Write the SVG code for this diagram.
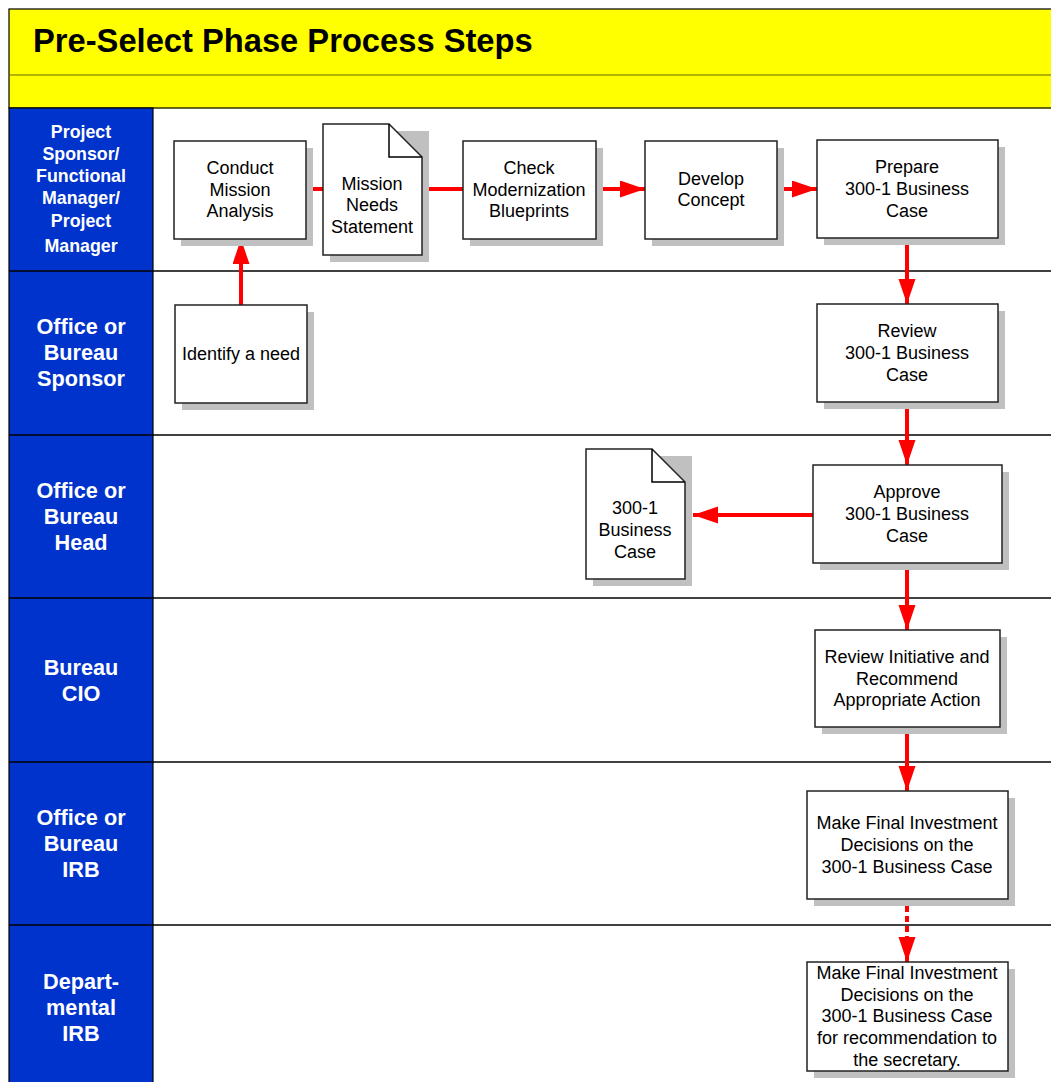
<svg xmlns="http://www.w3.org/2000/svg" width="1051" height="1082" viewBox="0 0 1051 1082">
<style>
.box{fill:#fff;stroke:#222;stroke-width:1.5}
.sh{fill:#c0c0c0}
.t{font-family:"Liberation Sans",Arial,sans-serif;font-size:18px;fill:#000;text-anchor:middle}
.lane{font-family:"Liberation Sans",Arial,sans-serif;font-weight:bold;font-size:21.7px;fill:#fff;text-anchor:middle}
.lane1{font-family:"Liberation Sans",Arial,sans-serif;font-weight:bold;font-size:17.8px;fill:#fff;text-anchor:middle}
.c{stroke:#ff0000;stroke-width:4;fill:none}
.sep{stroke:#000;stroke-width:1.5}
</style>
<defs>
<marker id="ah" markerUnits="userSpaceOnUse" markerWidth="26" markerHeight="18" refX="25" refY="8.5" orient="auto">
<path d="M0,0 L25,8.5 L0,17 Z" fill="#ff0000"/>
</marker>
</defs>
<rect x="0" y="0" width="1051" height="1082" fill="#fff"/>
<g id="header">
<rect x="9" y="9" width="1050" height="99" fill="#ffff00" stroke="#000" stroke-width="1.2"/>
<line x1="9" y1="75" x2="1051" y2="75" stroke="#666600" stroke-width="1.2"/>
<line x1="9" y1="108" x2="1051" y2="108" stroke="#666600" stroke-width="1.2"/>
<text x="33" y="52" font-family="'Liberation Sans',Arial,sans-serif" font-weight="bold" font-size="32.7" fill="#000">Pre-Select Phase Process Steps</text>
</g>
<g id="lanes">
<rect x="9" y="108" width="144" height="980" fill="#0033cc" stroke="#000" stroke-width="1.2"/>
<line class="sep" x1="9" y1="271" x2="1051" y2="271"/>
<line class="sep" x1="9" y1="435" x2="1051" y2="435"/>
<line class="sep" x1="9" y1="598" x2="1051" y2="598"/>
<line class="sep" x1="9" y1="762" x2="1051" y2="762"/>
<line class="sep" x1="9" y1="925" x2="1051" y2="925"/>
<text class="lane1"><tspan x="81" y="138">Project</tspan><tspan x="81" y="160">Sponsor/</tspan><tspan x="81" y="182">Functional</tspan><tspan x="81" y="204">Manager/</tspan><tspan x="81" y="227">Project</tspan><tspan x="81" y="252">Manager</tspan></text>
<text class="lane"><tspan x="81" y="334">Office or</tspan><tspan x="81" y="360">Bureau</tspan><tspan x="81" y="386">Sponsor</tspan></text>
<text class="lane"><tspan x="81" y="498">Office or</tspan><tspan x="81" y="524">Bureau</tspan><tspan x="81" y="550">Head</tspan></text>
<text class="lane"><tspan x="81" y="675">Bureau</tspan><tspan x="81" y="701">CIO</tspan></text>
<text class="lane"><tspan x="81" y="825">Office or</tspan><tspan x="81" y="851">Bureau</tspan><tspan x="81" y="877">IRB</tspan></text>
<text class="lane"><tspan x="81" y="989">Depart-</tspan><tspan x="81" y="1015">mental</tspan><tspan x="81" y="1041">IRB</tspan></text>
</g>
<g id="connectors">
<line class="c" x1="241" y1="306" x2="241" y2="239" marker-end="url(#ah)"/>
<line class="c" x1="312" y1="189" x2="323" y2="189"/>
<line class="c" x1="422" y1="189" x2="463" y2="189"/>
<line class="c" x1="603" y1="189" x2="645" y2="189" marker-end="url(#ah)"/>
<line class="c" x1="784" y1="189" x2="817" y2="189" marker-end="url(#ah)"/>
<line class="c" x1="907" y1="245" x2="907" y2="304" marker-end="url(#ah)"/>
<line class="c" x1="907" y1="409" x2="907" y2="465" marker-end="url(#ah)"/>
<line class="c" x1="813" y1="515" x2="693" y2="515" marker-end="url(#ah)"/>
<line class="c" x1="907" y1="563" x2="907" y2="630" marker-end="url(#ah)"/>
<line class="c" x1="907" y1="727" x2="907" y2="791" marker-end="url(#ah)"/>
<line class="c" x1="907" y1="906" x2="907" y2="962" stroke-dasharray="6,4" marker-end="url(#ah)"/>
</g>
<g id="conduct">
<rect class="sh" x="181" y="148" width="132" height="98"/>
<rect class="box" x="174" y="141" width="132" height="98"/>
<text class="t"><tspan x="240" y="174">Conduct</tspan><tspan x="240" y="196">Mission</tspan><tspan x="240" y="217">Analysis</tspan></text>
</g>
<g id="mns">
<rect class="sh" x="330" y="131" width="99" height="131"/>
<path class="box" d="M323,124 L389,124 L422,157 L422,255 L323,255 Z"/>
<path d="M389,124 L389,157 L422,157" fill="none" stroke="#000" stroke-width="1.5"/>
<text class="t"><tspan x="372" y="190">Mission</tspan><tspan x="372" y="211">Needs</tspan><tspan x="372" y="233">Statement</tspan></text>
</g>
<g id="check">
<rect class="sh" x="470" y="148" width="133" height="98"/>
<rect class="box" x="463" y="141" width="133" height="98"/>
<text class="t"><tspan x="529" y="174">Check</tspan><tspan x="529" y="196">Modernization</tspan><tspan x="529" y="217">Blueprints</tspan></text>
</g>
<g id="develop">
<rect class="sh" x="652" y="148" width="132" height="98"/>
<rect class="box" x="645" y="141" width="132" height="98"/>
<text class="t"><tspan x="711" y="185">Develop</tspan><tspan x="711" y="206">Concept</tspan></text>
</g>
<g id="prepare">
<rect class="sh" x="824" y="147" width="181" height="98"/>
<rect class="box" x="817" y="140" width="181" height="98"/>
<text class="t"><tspan x="907" y="173">Prepare</tspan><tspan x="907" y="195">300-1 Business</tspan><tspan x="907" y="217">Case</tspan></text>
</g>
<g id="identify">
<rect class="sh" x="182" y="312" width="132" height="98"/>
<rect class="box" x="175" y="305" width="132" height="98"/>
<text class="t" x="241" y="360">Identify a need</text>
</g>
<g id="review">
<rect class="sh" x="824" y="311" width="181" height="98"/>
<rect class="box" x="817" y="304" width="181" height="98"/>
<text class="t"><tspan x="907" y="337">Review</tspan><tspan x="907" y="359">300-1 Business</tspan><tspan x="907" y="381">Case</tspan></text>
</g>
<g id="approve">
<rect class="sh" x="820" y="472" width="189" height="98"/>
<rect class="box" x="813" y="465" width="189" height="98"/>
<text class="t"><tspan x="907" y="498">Approve</tspan><tspan x="907" y="520">300-1 Business</tspan><tspan x="907" y="542">Case</tspan></text>
</g>
<g id="bcdoc">
<rect class="sh" x="593" y="456" width="99" height="130"/>
<path class="box" d="M586,449 L652,449 L685,482 L685,579 L586,579 Z"/>
<path d="M652,449 L652,482 L685,482" fill="none" stroke="#000" stroke-width="1.5"/>
<text class="t"><tspan x="635" y="514">300-1</tspan><tspan x="635" y="536">Business</tspan><tspan x="635" y="558">Case</tspan></text>
</g>
<g id="reviewinit">
<rect class="sh" x="822" y="637" width="185" height="97"/>
<rect class="box" x="815" y="630" width="185" height="97"/>
<text class="t"><tspan x="907" y="663">Review Initiative and</tspan><tspan x="907" y="685">Recommend</tspan><tspan x="907" y="706">Appropriate Action</tspan></text>
</g>
<g id="finalirb">
<rect class="sh" x="814" y="798" width="201" height="108"/>
<rect class="box" x="807" y="791" width="201" height="108"/>
<text class="t"><tspan x="907" y="829">Make Final Investment</tspan><tspan x="907" y="851">Decisions on the</tspan><tspan x="907" y="873">300-1 Business Case</tspan></text>
</g>
<g id="finaldept">
<rect class="sh" x="814" y="969" width="201" height="109"/>
<rect class="box" x="807" y="962" width="201" height="109"/>
<text class="t"><tspan x="907" y="979">Make Final Investment</tspan><tspan x="907" y="1001">Decisions on the</tspan><tspan x="907" y="1022">300-1 Business Case</tspan><tspan x="907" y="1044">for recommendation to</tspan><tspan x="907" y="1066">the secretary.</tspan></text>
</g>
</svg>
